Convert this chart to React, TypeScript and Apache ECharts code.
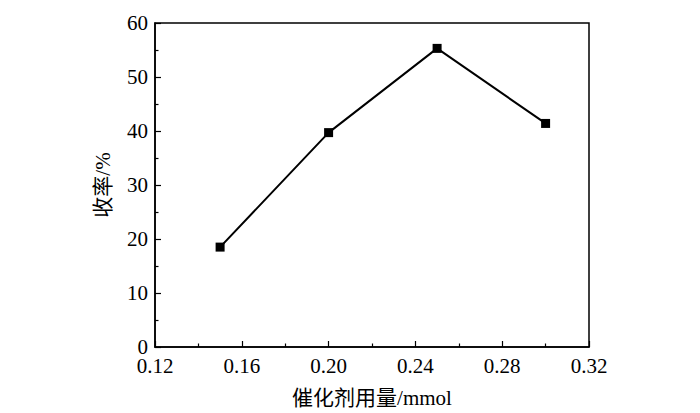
import React, { useEffect, useRef } from "react";
import * as echarts from "echarts";

const xValues = [0.15, 0.2, 0.25, 0.3];
const yValues = [18.5, 39.7, 55.3, 41.4];
const xAxisName = "催化剂用量/mmol";
const yAxisName = "收率/%";

const FONT = "'Liberation Serif', 'Times New Roman', 'Noto Sans CJK SC', serif";

export default function App() {
  const ref = useRef<HTMLDivElement>(null);
  useEffect(() => {
    document.body.style.margin = "0";
    if (!ref.current) return;
    const chart = echarts.init(ref.current, null, { renderer: "svg" });
    chart.setOption({
      animation: false,
      backgroundColor: "#fff",
      grid: {
        left: 155,
        top: 23,
        right: 111,
        bottom: 63.5,
        show: true,
        borderColor: "#000",
        borderWidth: 1.5,
        backgroundColor: "transparent",
      },
      xAxis: {
        type: "value",
        min: 0.12,
        max: 0.32,
        interval: 0.04,
        name: xAxisName,
        nameLocation: "middle",
        nameGap: 40,
        nameTextStyle: { fontFamily: FONT, fontSize: 21, color: "#000" },
        axisLine: { show: true, onZero: false, lineStyle: { color: "#000", width: 1.5 } },
        axisTick: { show: true, inside: true, length: 6, lineStyle: { color: "#000", width: 1.2 } },
        minorTick: { show: true, splitNumber: 2, length: 3.5, lineStyle: { color: "#000", width: 1.2 } },
        splitLine: { show: false },
        axisLabel: {
          fontFamily: FONT,
          fontSize: 21,
          color: "#000",
          margin: 8,
          formatter: (v: number) => v.toFixed(2),
        },
      },
      yAxis: {
        type: "value",
        min: 0,
        max: 60,
        interval: 10,
        name: yAxisName,
        nameLocation: "middle",
        nameGap: 42,
        nameRotate: 90,
        nameTextStyle: { fontFamily: FONT, fontSize: 21, color: "#000" },
        axisLine: { show: true, lineStyle: { color: "#000", width: 1.5 } },
        axisTick: { show: true, inside: true, length: 6, lineStyle: { color: "#000", width: 1.2 } },
        minorTick: { show: true, splitNumber: 2, length: 3.5, lineStyle: { color: "#000", width: 1.2 } },
        splitLine: { show: false },
        axisLabel: { fontFamily: FONT, fontSize: 21, color: "#000", margin: 7 },
      },
      series: [
        {
          type: "line",
          data: xValues.map((x, i) => [x, yValues[i]]),
          symbol: "rect",
          symbolSize: 9,
          itemStyle: { color: "#000" },
          lineStyle: { color: "#000", width: 2 },
        },
      ],
    });
    return () => chart.dispose();
  }, []);
  return <div ref={ref} style={{ width: 700, height: 413 }} />;
}
